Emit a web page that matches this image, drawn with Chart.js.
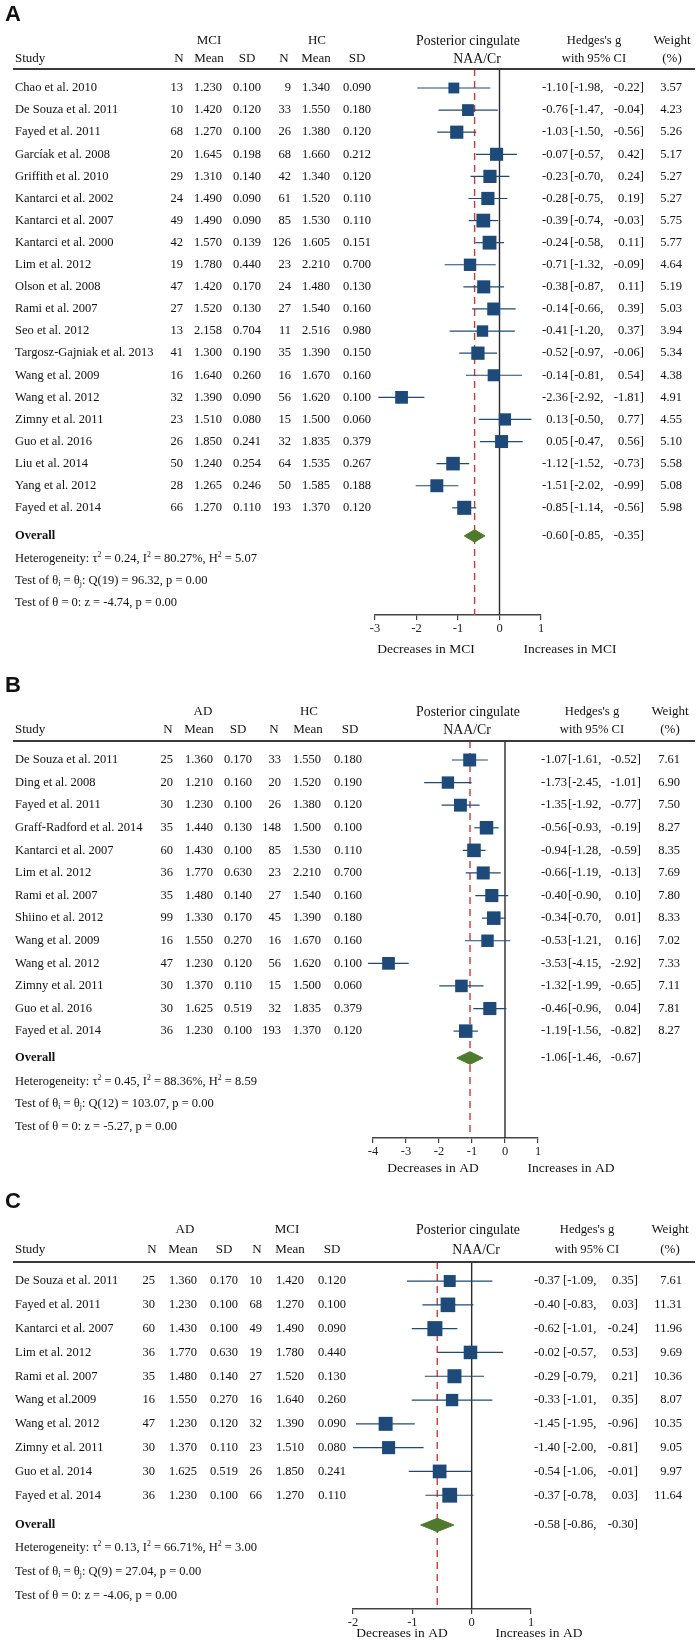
<!DOCTYPE html>
<html><head><meta charset="utf-8">
<script src="https://cdn.jsdelivr.net/npm/chart.js@4.4.0/dist/chart.umd.min.js"></script>
<style>
html,body{margin:0;padding:0;background:#fff;}
#wrap{position:relative;width:700px;height:1652px;background:#fff;}
canvas{position:absolute;left:0;}
</style></head><body>
<div id="wrap">
<canvas id="cA" width="700" height="675" style="top:0px"></canvas>
<canvas id="cB" width="700" height="510" style="top:675px"></canvas>
<canvas id="cC" width="700" height="467" style="top:1185px"></canvas>
</div>
<script>
// ---------- Panel A: MCI vs HC ----------
const studiesA = ["Chao et al. 2010","De Souza et al. 2011","Fayed et al. 2011","Garcíak et al. 2008","Griffith et al. 2010","Kantarci et al. 2002","Kantarci et al. 2007","Kantarci et al. 2000","Lim et al. 2012","Olson et al. 2008","Rami et al. 2007","Seo et al. 2012","Targosz-Gajniak et al. 2013","Wang et al. 2009","Wang et al. 2012","Zimny et al. 2011","Guo et al. 2016","Liu et al. 2014","Yang et al. 2012","Fayed et al. 2014"];
const n1A = [13,10,68,20,29,24,49,42,19,47,27,13,41,16,32,23,26,50,28,66];
const mean1A = [1.230,1.420,1.270,1.645,1.310,1.490,1.490,1.570,1.780,1.420,1.520,2.158,1.300,1.640,1.390,1.510,1.850,1.240,1.265,1.270];
const sd1A = [0.100,0.120,0.100,0.198,0.140,0.090,0.090,0.139,0.440,0.170,0.130,0.704,0.190,0.260,0.090,0.080,0.241,0.254,0.246,0.110];
const n2A = [9,33,26,68,42,61,85,126,23,24,27,11,35,16,56,15,32,64,50,193];
const mean2A = [1.340,1.550,1.380,1.660,1.340,1.520,1.530,1.605,2.210,1.480,1.540,2.516,1.390,1.670,1.620,1.500,1.835,1.535,1.585,1.370];
const sd2A = [0.090,0.180,0.120,0.212,0.120,0.110,0.110,0.151,0.700,0.130,0.160,0.980,0.150,0.160,0.100,0.060,0.379,0.267,0.188,0.120];
const gA = [-1.10,-0.76,-1.03,-0.07,-0.23,-0.28,-0.39,-0.24,-0.71,-0.38,-0.14,-0.41,-0.52,-0.14,-2.36,0.13,0.05,-1.12,-1.51,-0.85];
const loA = [-1.98,-1.47,-1.50,-0.57,-0.70,-0.75,-0.74,-0.58,-1.32,-0.87,-0.66,-1.20,-0.97,-0.81,-2.92,-0.50,-0.47,-1.52,-2.02,-1.14];
const hiA = [-0.22,-0.04,-0.56,0.42,0.24,0.19,-0.03,0.11,-0.09,0.11,0.39,0.37,-0.06,0.54,-1.81,0.77,0.56,-0.73,-0.99,-0.56];
const wA = [3.57,4.23,5.26,5.17,5.27,5.27,5.75,5.77,4.64,5.19,5.03,3.94,5.34,4.38,4.91,4.55,5.10,5.58,5.08,5.98];
const overallA = [-0.60,-0.85,-0.35];
const statsA = ["0.24","80.27%","5.07","19","96.32","-4.74"];
const ticksA = [-3,-2,-1,0,1];

// ---------- Panel B: AD vs HC ----------
const studiesB = ["De Souza et al. 2011","Ding et al. 2008","Fayed et al. 2011","Graff-Radford et al. 2014","Kantarci et al. 2007","Lim et al. 2012","Rami et al. 2007","Shiino et al. 2012","Wang et al. 2009","Wang et al. 2012","Zimny et al. 2011","Guo et al. 2016","Fayed et al. 2014"];
const n1B = [25,20,30,35,60,36,35,99,16,47,30,30,36];
const mean1B = [1.360,1.210,1.230,1.440,1.430,1.770,1.480,1.330,1.550,1.230,1.370,1.625,1.230];
const sd1B = [0.170,0.160,0.100,0.130,0.100,0.630,0.140,0.170,0.270,0.120,0.110,0.519,0.100];
const n2B = [33,20,26,148,85,23,27,45,16,56,15,32,193];
const mean2B = [1.550,1.520,1.380,1.500,1.530,2.210,1.540,1.390,1.670,1.620,1.500,1.835,1.370];
const sd2B = [0.180,0.190,0.120,0.100,0.110,0.700,0.160,0.180,0.160,0.100,0.060,0.379,0.120];
const gB = [-1.07,-1.73,-1.35,-0.56,-0.94,-0.66,-0.40,-0.34,-0.53,-3.53,-1.32,-0.46,-1.19];
const loB = [-1.61,-2.45,-1.92,-0.93,-1.28,-1.19,-0.90,-0.70,-1.21,-4.15,-1.99,-0.96,-1.56];
const hiB = [-0.52,-1.01,-0.77,-0.19,-0.59,-0.13,0.10,0.01,0.16,-2.92,-0.65,0.04,-0.82];
const wB = [7.61,6.90,7.50,8.27,8.35,7.69,7.80,8.33,7.02,7.33,7.11,7.81,8.27];
const overallB = [-1.06,-1.46,-0.67];
const statsB = ["0.45","88.36%","8.59","12","103.07","-5.27"];
const ticksB = [-4,-3,-2,-1,0,1];

// ---------- Panel C: AD vs MCI ----------
const studiesC = ["De Souza et al. 2011","Fayed et al. 2011","Kantarci et al. 2007","Lim et al. 2012","Rami et al. 2007","Wang et al.2009","Wang et al. 2012","Zimny et al. 2011","Guo et al. 2014","Fayed et al. 2014"];
const n1C = [25,30,60,36,35,16,47,30,30,36];
const mean1C = [1.360,1.230,1.430,1.770,1.480,1.550,1.230,1.370,1.625,1.230];
const sd1C = [0.170,0.100,0.100,0.630,0.140,0.270,0.120,0.110,0.519,0.100];
const n2C = [10,68,49,19,27,16,32,23,26,66];
const mean2C = [1.420,1.270,1.490,1.780,1.520,1.640,1.390,1.510,1.850,1.270];
const sd2C = [0.120,0.100,0.090,0.440,0.130,0.260,0.090,0.080,0.241,0.110];
const gC = [-0.37,-0.40,-0.62,-0.02,-0.29,-0.33,-1.45,-1.40,-0.54,-0.37];
const loC = [-1.09,-0.83,-1.01,-0.57,-0.79,-1.01,-1.95,-2.00,-1.06,-0.78];
const hiC = [0.35,0.03,-0.24,0.53,0.21,0.35,-0.96,-0.81,-0.01,0.03];
const wC = [7.61,11.31,11.96,9.69,10.36,8.07,10.35,9.05,9.97,11.64];
const overallC = [-0.58,-0.86,-0.30];
const statsC = ["0.13","66.71%","3.00","9","27.04","-4.06"];
const ticksC = [-2,-1,0,1];

const NAVY = '#1d4a78', GREEN = '#4f7a2e', RED = '#cc3a36';
const SERIF = '"Liberation Serif","Times New Roman",serif';
const BODY = 12.5, HEAD = 13;

function rich(ctx, segs, x, y, size) {
  let cx = x;
  ctx.textAlign = 'left'; ctx.textBaseline = 'middle';
  for (const [t, m] of segs) {
    const fs = m ? size * 0.62 : size;
    ctx.font = fs + 'px ' + SERIF;
    const dy = m === 'sup' ? -size * 0.33 : (m === 'sub' ? size * 0.22 : 0);
    ctx.fillText(t, cx, y + dy);
    cx += ctx.measureText(t).width;
  }
}
function txt(ctx, s, x, y, align, size, bold) {
  ctx.font = (bold ? 'bold ' : '') + size + 'px ' + SERIF;
  ctx.textAlign = align; ctx.textBaseline = 'middle';
  ctx.fillText(s, x, y);
}

function buildPanel(id, P) {
  const el = document.getElementById(id);
  const H = el.height;
  const AXH = 22;
  const ds = [];
  ds.push({data:[{x:0,y:P.yMin},{x:0,y:P.yMax}], showLine:true, borderColor:'#2b2b2b', borderWidth:1.4, pointRadius:0, clip:false, order:10});
  ds.push({data:[{x:P.overall[0],y:P.yMin},{x:P.overall[0],y:P.yMax}], showLine:true, borderColor:RED, borderWidth:1.4, borderDash:[7,5], pointRadius:0, clip:false, order:9});
  P.lo.forEach((l, i) => ds.push({data:[{x:l,y:i},{x:P.hi[i],y:i}], showLine:true, borderColor:NAVY, borderWidth:1.2, pointRadius:0, clip:false, order:5}));
  ds.push({data:P.g.map((v,i)=>({x:v,y:i})), pointStyle:'rect', pointRadius: c => P.k * Math.sqrt(P.w[c.dataIndex]) / Math.SQRT2, backgroundColor:NAVY, borderWidth:0, clip:false, order:1});
  const oy = P.overallRow, dh = 0.28;
  const [oe, ol, oh] = P.overall;
  ds.push({data:[{x:ol,y:oy},{x:oe,y:oy-dh},{x:oh,y:oy},{x:oe,y:oy+dh},{x:ol,y:oy}], showLine:true, fill:'shape', backgroundColor:GREEN, borderColor:GREEN, borderWidth:1, pointRadius:0, clip:false, order:0});

  const textPlugin = {
    id: 'forestText' + id,
    afterDraw(chart) {
      const ctx = chart.ctx;
      const ys = chart.scales.y;
      ctx.save();
      ctx.fillStyle = '#111';
      ctx.font = 'bold 22px "Liberation Sans",Arial,sans-serif';
      ctx.textAlign = 'left'; ctx.textBaseline = 'middle';
      ctx.fillText(P.letter, 5, P.labelY);
      txt(ctx, P.grp[0], P.grpC[0], P.groupY, 'center', HEAD);
      txt(ctx, P.grp[1], P.grpC[1], P.groupY, 'center', HEAD);
      txt(ctx, 'Study', 15, P.colY, 'left', HEAD);
      const heads = ['N','Mean','SD','N','Mean','SD'];
      heads.forEach((h, j) => txt(ctx, h, P.colC[j], P.colY, 'center', HEAD));
      txt(ctx, 'Posterior cingulate', P.pcX, P.groupY, 'center', 13.8);
      txt(ctx, 'NAA/Cr', P.naaX, P.colY, 'center', 13.8);
      txt(ctx, "Hedges's g", P.hedX, P.groupY, 'center', 12.6);
      txt(ctx, 'with 95% CI', P.hedX, P.colY, 'center', 12.6);
      txt(ctx, 'Weight', P.wX, P.groupY, 'center', HEAD);
      txt(ctx, '(%)', P.wX, P.colY, 'center', HEAD);
      ctx.strokeStyle = '#3a3a3a'; ctx.lineWidth = 2;
      ctx.beginPath(); ctx.moveTo(13, chart.chartArea.top); ctx.lineTo(695, chart.chartArea.top); ctx.stroke();
      const cols = [P.n1, P.m1, P.s1, P.n2, P.m2, P.s2];
      P.studies.forEach((s, i) => {
        const y = ys.getPixelForValue(i);
        txt(ctx, s, 15, y, 'left', BODY);
        cols.forEach((c, j) => {
          const v = (j === 0 || j === 3) ? String(c[i]) : c[i].toFixed(3);
          txt(ctx, v, P.colR[j], y, 'right', BODY);
        });
        txt(ctx, P.g[i].toFixed(2), P.estR, y, 'right', BODY);
        txt(ctx, '[' + P.lo[i].toFixed(2) + ',', P.brL, y, 'left', BODY);
        txt(ctx, P.hi[i].toFixed(2) + ']', P.hiR, y, 'right', BODY);
        txt(ctx, P.w[i].toFixed(2), P.wR, y, 'right', BODY);
      });
      const yo = ys.getPixelForValue(P.overallRow);
      txt(ctx, 'Overall', 15, yo, 'left', BODY, true);
      txt(ctx, P.overall[0].toFixed(2), P.estR, yo, 'right', BODY);
      txt(ctx, '[' + P.overall[1].toFixed(2) + ',', P.brL, yo, 'left', BODY);
      txt(ctx, P.overall[2].toFixed(2) + ']', P.hiR, yo, 'right', BODY);
      const st = P.stats;
      rich(ctx, [['Heterogeneity: τ',''],['2','sup'],[' = ' + st[0] + ', I',''],['2','sup'],[' = ' + st[1] + ', H',''],['2','sup'],[' = ' + st[2],'']], 15, ys.getPixelForValue(P.statRows[0]), BODY);
      rich(ctx, [['Test of θ',''],['i','sub'],[' = θ',''],['j','sub'],[': Q(' + st[3] + ') = ' + st[4] + ', p = 0.00','']], 15, ys.getPixelForValue(P.statRows[1]), BODY);
      rich(ctx, [['Test of θ = 0: z = ' + st[5] + ', p = 0.00','']], 15, ys.getPixelForValue(P.statRows[2]), BODY);
      txt(ctx, P.dec[0], P.decX[0], P.decY, 'center', 13.5);
      txt(ctx, P.dec[1], P.decX[1], P.decY, 'center', 13.5);
      ctx.restore();
    }
  };

  return new Chart(el, {
    type: 'scatter',
    data: {datasets: ds},
    options: {
      responsive: false, animation: false, events: [],
      layout: {padding: {left: P.left, right: 700 - P.right, top: P.lineY, bottom: H - P.axisY - AXH}},
      plugins: {legend: {display: false}, tooltip: {enabled: false}},
      scales: {
        x: {
          type: 'linear', min: P.ticks[0], max: P.ticks[P.ticks.length - 1],
          afterBuildTicks: s => { s.ticks = P.ticks.map(v => ({value: v})); },
          afterFit: s => { s.height = AXH; },
          ticks: {color: '#222', font: {family: SERIF, size: 12.5}, padding: 1, callback: v => String(v)},
          grid: {drawOnChartArea: false, drawTicks: true, tickLength: 5, color: '#444', lineWidth: 1.2},
          border: {display: true, color: '#444', width: 1.4}
        },
        y: {type: 'linear', reverse: true, min: P.yMin, max: P.yMax, display: false}
      }
    },
    plugins: [textPlugin]
  });
}

buildPanel('cA', {
  letter:'A', studies:studiesA, n1:n1A, m1:mean1A, s1:sd1A, n2:n2A, m2:mean2A, s2:sd2A,
  g:gA, lo:loA, hi:hiA, w:wA, overall:overallA, stats:statsA, ticks:ticksA,
  grp:['MCI','HC'], dec:['Decreases in MCI','Increases in MCI'], k:5.75,
  lineY:69, axisY:615, left:375, right:541, yMin:-0.86, yMax:23.85,
  overallRow:20.27, statRows:[21.31,22.31,23.3],
  labelY:15, groupY:41, colY:59, decY:649, decX:[426,570],
  pcX:468, naaX:477, hedX:594, wX:672, estR:568, brL:570, hiR:644, wR:682,
  colR:[183,222,261,291,330,371], colC:[179,209,247,284,316,357], grpC:[209,317]
});
buildPanel('cB', {
  letter:'B', studies:studiesB, n1:n1B, m1:mean1B, s1:sd1B, n2:n2B, m2:mean2B, s2:sd2B,
  g:gB, lo:loB, hi:hiB, w:wB, overall:overallB, stats:statsB, ticks:ticksB,
  grp:['AD','HC'], dec:['Decreases in AD','Increases in AD'], k:4.7,
  lineY:66, axisY:463, left:373, right:538, yMin:-0.84, yMax:16.73,
  overallRow:13.19, statRows:[14.25,15.22,16.24],
  labelY:11, groupY:37, colY:55, decY:493, decX:[433,571],
  pcX:468, naaX:467, hedX:592, wX:670, estR:567, brL:568, hiR:641, wR:680,
  colR:[173,213,252,281,321,362], colC:[168,199,238,274,308,350], grpC:[203,309]
});
buildPanel('cC', {
  letter:'C', studies:studiesC, n1:n1C, m1:mean1C, s1:sd1C, n2:n2C, m2:mean2C, s2:sd2C,
  g:gC, lo:loC, hi:hiC, w:wC, overall:overallC, stats:statsC, ticks:ticksC,
  grp:['AD','MCI'], dec:['Decreases in AD','Increases in AD'], k:4.35,
  lineY:77, axisY:424, left:353, right:531, yMin:-0.8, yMax:13.78,
  overallRow:10.25, statRows:[11.22,12.23,13.24],
  labelY:17, groupY:45, colY:65, decY:448, decX:[402,539],
  pcX:468, naaX:476, hedX:587, wX:670, estR:560, brL:563, hiR:638, wR:682,
  colR:[155,197,238,262,304,346], colC:[152,183,224,257,290,332], grpC:[185,287]
});
</script>
</body></html>
